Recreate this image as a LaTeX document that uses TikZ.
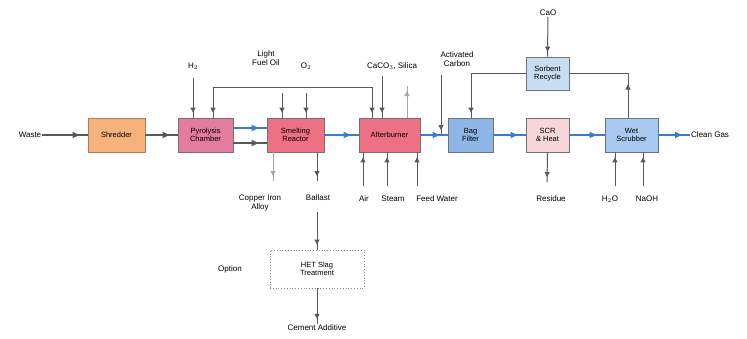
\documentclass[tikz,border=0pt]{standalone}
\usepackage{fontspec}
\setmainfont{Liberation Sans}
\usetikzlibrary{arrows.meta,decorations.markings}

\definecolor{gasblue}{HTML}{3B7DC9}
\definecolor{feedorange}{HTML}{F6B27C}
\definecolor{furnpink}{HTML}{E47C9E}
\definecolor{smeltred}{HTML}{EE7083}
\definecolor{lightpink}{HTML}{F6D6D8}
\definecolor{filterblue}{HTML}{8DB6E4}
\definecolor{scrubblue}{HTML}{A9CAF0}
\definecolor{paleblue}{HTML}{C6DDF3}

\tikzset{
  unit/.style={draw=black!55, line width=0.8pt, minimum height=34pt, align=center,
    font=\fontsize{7.5}{8.5}\selectfont, inner sep=1pt},
  lbl/.style={align=center, font=\fontsize{8}{9}\selectfont, inner sep=1pt},
  feed/.style={line width=1pt, draw=black!65, postaction={decorate},
    decoration={markings, mark=at position #1 with {\arrow[black!65]{Triangle[length=5pt,width=5pt]}}}},
  feed/.default=-5pt,
  faint/.style={line width=0.8pt, draw=black!35, postaction={decorate},
    decoration={markings, mark=at position -5pt with {\arrow[black!35]{Triangle[length=5pt,width=5pt]}}}},
  mainline/.style={line width=1.6pt, draw=black!65, postaction={decorate},
    decoration={markings, mark=at position -8pt with {\arrow[black!65]{Triangle[length=7pt,width=6pt]}}}},
  gas/.style={line width=1.6pt, draw=gasblue, postaction={decorate},
    decoration={markings, mark=at position -8pt with {\arrow[gasblue]{Triangle[length=7pt,width=6pt]}}}},
}

\begin{document}
\begin{tikzpicture}[x=1pt,y=-1pt]
  \fill[white] (0,0) rectangle (747,338);
  \useasboundingbox (0,0) rectangle (747,338);

  % process units
  \node[unit, fill=feedorange, draw=feedorange!70!black, minimum width=57pt] (shred) at (116.5,135) {Shredder};
  \node[unit, fill=furnpink, minimum width=55pt] (pyro) at (205.5,135) {Pyrolysis\\Chamber};
  \node[unit, fill=smeltred, minimum width=57pt] (smelt) at (295.5,135) {Smelting\\Reactor};
  \node[unit, fill=smeltred, minimum width=61pt] (boiler) at (389.5,135) {Afterburner};
  \node[unit, fill=filterblue, minimum width=45pt] (bag) at (470.5,135) {Bag\\Filter};
  \node[unit, fill=lightpink, minimum width=43pt] (scr) at (547.5,135) {SCR\\\& Heat};
  \node[unit, fill=scrubblue, minimum width=53pt] (wet) at (631.5,135) {Wet\\Scrubber};
  \node[unit, fill=paleblue, minimum width=43pt, minimum height=33pt] (recyc) at (547.5,73.5) {Sorbent\\Recycle};
  \node[unit, draw=black!45, dotted, line width=0.9pt, minimum width=94pt, minimum height=38pt] (het) at (317,269) {HET Slag\\Treatment};

  % labels
  \node[lbl] (lwaste) at (30,135) {Waste};
  \node[lbl] (lh2) at (193,66) {H$_2$};
  \node[lbl] (lfuel) at (266,58) {Light\\Fuel Oil};
  \node[lbl] (lo2) at (306,66) {O$_2$};
  \node[lbl] (lcaco) at (392,66) {CaCO$_3$, Silica};
  \node[lbl] (lcarbon) at (457,59) {Activated\\Carbon};
  \node[lbl] (lcao) at (548,13) {CaO};
  \node[lbl, anchor=west] (lclean) at (690,135) {Clean Gas};
  \node[lbl] (lcopper) at (260,203) {Copper Iron\\Alloy};
  \node[lbl] (lballast) at (318,198) {Ballast};
  \node[lbl] (lair) at (364,199) {Air};
  \node[lbl] (lsteam) at (393,199) {Steam};
  \node[lbl] (lfeed) at (437,199) {Feed Water};
  \node[lbl] (lresidue) at (551,199) {Residue};
  \node[lbl] (lh2o) at (610,199) {H$_2$O};
  \node[lbl] (lnaoh) at (647,199) {NaOH};
  \node[lbl] (loption) at (230,269) {Option};
  \node[lbl] (lcement) at (317,328) {Cement Additive};

  % free ends of the feed lines
  \coordinate (h2top) at (193,78);
  \coordinate (bpa) at (213,87);
  \coordinate (bpb) at (372,87);
  \coordinate (fueltop) at (282,93);
  \coordinate (o2top) at (306,93);
  \coordinate (cacotop) at (382,76);
  \coordinate (boilout) at (407,86);
  \coordinate (carbtop) at (441,75);
  \coordinate (rl) at (471,73.5);
  \coordinate (rr) at (628,73.5);
  \coordinate (copbot) at (273,181);
  \coordinate (balbot) at (317,181);
  \coordinate (baltop) at (317,212);
  \coordinate (airbot) at (363,186);
  \coordinate (stmbot) at (387,186);
  \coordinate (fwbot) at (417,186);
  \coordinate (resbot) at (547,182);
  \coordinate (h2obot) at (615,186);
  \coordinate (naohbot) at (643,186);

  % main line
  \draw[mainline] (lwaste) -- (shred);
  \draw[mainline] (shred) -- (pyro);
  \draw[gas] ([yshift=7pt]pyro.east) -- ([yshift=7pt]smelt.west);
  \draw[mainline] ([yshift=-8pt]pyro.east) -- ([yshift=-8pt]smelt.west);
  \draw[gas] (smelt) -- (boiler);
  \draw[gas] (boiler) -- (bag);
  \draw[gas] (bag) -- (scr);
  \draw[gas] (scr) -- (wet);
  \draw[gas] (wet) -- (lclean);

  % feeds from above
  \draw[feed] (h2top) -- (h2top |- pyro.north);
  \draw[line width=1pt, draw=black!65] (bpa) -- (bpb);
  \draw[feed] (bpa) -- (bpa |- pyro.north);
  \draw[feed] (bpb) -- (bpb |- boiler.north);
  \draw[feed] (fueltop) -- (fueltop |- smelt.north);
  \draw[feed] (o2top) -- (o2top |- smelt.north);
  \draw[feed] (cacotop) -- (cacotop |- boiler.north);
  \draw[faint] (boilout |- boiler.north) -- (boilout);
  \draw[feed] (carbtop) -- (carbtop |- bag.west);
  \draw[feed] (lcao) -- (recyc.north);
  \draw[feed] (recyc.west) -- (rl) -- (rl |- bag.north);
  \draw[feed=33pt] (rr |- wet.north) -- (rr) -- (recyc.east);

  % feeds and products below
  \draw[faint] (copbot |- smelt.south) -- (copbot);
  \draw[feed] (balbot |- smelt.south) -- (balbot);
  \draw[feed] (airbot) -- (airbot |- boiler.south);
  \draw[feed] (stmbot) -- (stmbot |- boiler.south);
  \draw[feed] (fwbot) -- (fwbot |- boiler.south);
  \draw[feed] (scr.south) -- (resbot);
  \draw[feed] (h2obot) -- (h2obot |- wet.south);
  \draw[feed] (naohbot) -- (naohbot |- wet.south);
  \draw[feed] (baltop) -- (het.north);
  \draw[feed] (het.south) -- (lcement.north);
\end{tikzpicture}
\end{document}
